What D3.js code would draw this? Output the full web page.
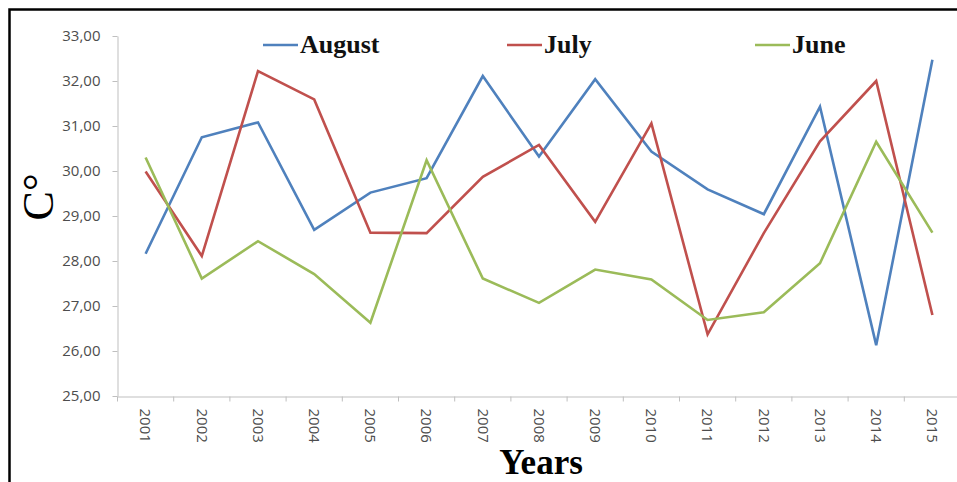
<!DOCTYPE html>
<html>
<head>
<meta charset="utf-8">
<script src="https://cdn.jsdelivr.net/npm/d3@7/dist/d3.min.js"></script>
<style>
	body { margin: 0; background: #fff; }
	svg { display: block; }
</style>
</head>
<body>
<script>
// chart values
var years = ["2001", "2002", "2003", "2004", "2005", "2006", "2007", "2008", "2009", "2010", "2011", "2012", "2013", "2014", "2015"];
var august = [28.16, 30.75, 31.08, 28.69, 29.52, 29.84, 32.11, 30.32, 32.04, 30.43, 29.59, 29.04, 31.43, 26.13, 32.47];
var july = [29.99, 28.11, 32.22, 31.59, 28.63, 28.62, 29.87, 30.58, 28.87, 31.06, 26.37, 28.62, 30.66, 32.00, 26.80];
var june = [30.30, 27.61, 28.44, 27.71, 26.63, 30.24, 27.61, 27.07, 27.81, 27.59, 26.69, 26.86, 27.95, 30.65, 28.63];
var seriesNames = ["August", "July", "June"];
var yTicks = [25, 26, 27, 28, 29, 30, 31, 32, 33];

var W = 957, H = 482;
var colors = {"August": "#4f81bd", "July": "#c0504d", "June": "#9bbb59"};
var series = [
	{name: "August", values: august},
	{name: "July", values: july},
	{name: "June", values: june}
];

var svg = d3.select("body").append("svg").attr("width", W).attr("height", H);

// outer frame (runs off the right and bottom of the picture)
svg.append("rect")
	.attr("x", 9.5).attr("y", 9.5)
	.attr("width", W + 20).attr("height", H + 20)
	.attr("fill", "#fff").attr("stroke", "#000").attr("stroke-width", 2.5);

var x = d3.scaleBand().domain(years).range([117.5, 960.5]);
var y = d3.scaleLinear().domain([25, 33]).range([396, 36]);

// y axis
var yAxis = svg.append("g")
	.attr("transform", "translate(117.5,0)")
	.call(d3.axisLeft(y).tickValues(yTicks).tickSize(5).tickSizeOuter(0).tickPadding(12)
		.tickFormat(function(d){ return d.toFixed(2).replace(".", ","); }));
yAxis.select(".domain").attr("stroke", "#bfbfbf");
yAxis.selectAll(".tick line").attr("stroke", "#bfbfbf");
yAxis.selectAll(".tick text")
	.attr("fill", "#4d4d4d").attr("font-family", "Open Sans").attr("font-size", 15);

// x axis: labels under each year, tick marks between years
var xAxis = svg.append("g")
	.attr("transform", "translate(0,396.5)")
	.call(d3.axisBottom(x).tickSize(0).tickSizeOuter(0));
xAxis.select(".domain").attr("stroke", "#bfbfbf");
xAxis.selectAll(".tick text")
	.attr("fill", "#4d4d4d").attr("font-family", "Open Sans").attr("font-size", 15)
	.attr("text-anchor", "start").attr("dy", "0.35em")
	.attr("transform", "translate(0,12) rotate(90)")
	.attr("x", 0).attr("y", 0);
var bounds = years.map(function(d){ return x(d); }).concat([x.range()[1]]);
xAxis.selectAll(".sep").data(bounds).enter().append("line")
	.attr("class", "sep")
	.attr("x1", function(d){ return d; }).attr("x2", function(d){ return d; })
	.attr("y1", 0).attr("y2", 5)
	.attr("stroke", "#bfbfbf");

// lines
var line = d3.line()
	.x(function(d, i){ return x(years[i]) + x.bandwidth() / 2; })
	.y(function(d){ return y(d); });

series.forEach(function(s){
	svg.append("path")
		.datum(s.values)
		.attr("d", line)
		.attr("fill", "none")
		.attr("stroke", colors[s.name])
		.attr("stroke-width", 2.6)
		.attr("stroke-linejoin", "miter");
});

// legend
var legendX = [263, 507, 755];
seriesNames.forEach(function(name, i){
	var g = svg.append("g").attr("transform", "translate(" + legendX[i] + ",0)");
	g.append("line")
		.attr("x1", 0).attr("x2", 35).attr("y1", 45).attr("y2", 45)
		.attr("stroke", colors[name]).attr("stroke-width", 2.6);
	g.append("text")
		.attr("x", 37).attr("y", 53)
		.attr("font-family", "Liberation Serif").attr("font-weight", "bold").attr("font-size", 26)
		.attr("fill", "#111")
		.text(name);
});

// axis titles
svg.append("text")
	.attr("transform", "translate(53,197) rotate(-90)")
	.attr("text-anchor", "middle")
	.attr("font-family", "Liberation Serif").attr("font-size", 44)
	.attr("fill", "#000")
	.text("C°");

svg.append("text")
	.attr("x", 541).attr("y", 474)
	.attr("text-anchor", "middle")
	.attr("font-family", "Liberation Serif").attr("font-weight", "bold").attr("font-size", 35)
	.attr("fill", "#000")
	.text("Years");
</script>
</body>
</html>
